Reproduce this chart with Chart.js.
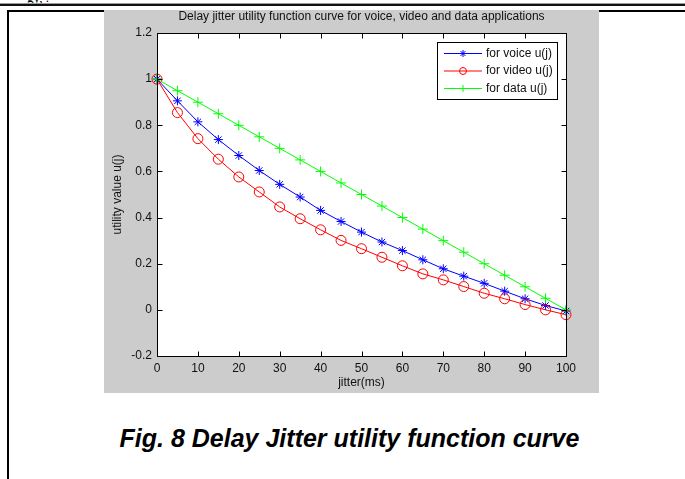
<!DOCTYPE html>
<html>
<head>
<meta charset="utf-8">
<script src="https://cdn.jsdelivr.net/npm/chart.js@4/dist/chart.umd.min.js"></script>
<style>
  html, body { margin: 0; padding: 0; background: #fff; }
  body { width: 685px; height: 479px; position: relative; overflow: hidden; font-family: "Liberation Sans", Arial, sans-serif; }
  #runhead { position: absolute; left: 27px; top: -10px; font: 13px "Liberation Serif", serif; color: #000; }
  #ruleThin { position: absolute; left: 0; top: 3px; width: 685px; height: 1px; background: #9a9a9a; }
  #ruleThick { position: absolute; left: 0; top: 4px; width: 685px; height: 2px; background: #111; }
  #cellTop { position: absolute; left: 7px; top: 10px; width: 678px; height: 2px; background: #000; }
  #cellLeft { position: absolute; left: 7px; top: 10px; width: 2px; height: 469px; background: #000; }
  #fig { position: absolute; left: 104px; top: 10px; width: 495px; height: 383px; }
  #caption { position: absolute; left: 0; top: 423px; width: 699px; text-align: center;
             font: italic bold 25px "Liberation Sans", Arial, sans-serif; line-height: 30px; color: #000; }
</style>
</head>
<body>
<div id="runhead">gy, .</div>
<div id="ruleThin"></div>
<div id="ruleThick"></div>
<div id="cellTop"></div>
<div id="cellLeft"></div>
<div id="fig"><canvas id="chart" width="495" height="383"></canvas></div>
<div id="caption">Fig. 8 Delay Jitter utility function curve</div>

<script>
// Jitter (ms) sample points
const jitter = [0, 5, 10, 15, 20, 25, 30, 35, 40, 45, 50, 55, 60, 65, 70, 75, 80, 85, 90, 95, 100];

// Utility values u(j) per application class
const voiceU = [1, 0.906, 0.815, 0.738, 0.669, 0.604, 0.544, 0.489, 0.431, 0.383, 0.337,
                0.294, 0.257, 0.217, 0.178, 0.146, 0.115, 0.081, 0.048, 0.019, -0.005];
const videoU = [1, 0.855, 0.742, 0.653, 0.576, 0.511, 0.446, 0.395, 0.347, 0.301, 0.265,
                0.228, 0.191, 0.156, 0.130, 0.101, 0.072, 0.048, 0.023, 0.000, -0.021];
const dataU  = [1, 0.95, 0.90, 0.85, 0.80, 0.75, 0.70, 0.65, 0.60, 0.55, 0.50,
                0.45, 0.40, 0.35, 0.30, 0.25, 0.20, 0.15, 0.10, 0.05, 0];

// Axis ticks
const xTicks = [0, 10, 20, 30, 40, 50, 60, 70, 80, 90, 100];
const yTicks = [-0.2, 0, 0.2, 0.4, 0.6, 0.8, 1, 1.2];
const yTickLabels = ['-0.2', '0', '0.2', '0.4', '0.6', '0.8', '1', '1.2'];

// Text
const titleText = 'Delay jitter utility function curve for voice, video and data applications';
const xTitle = 'jitter(ms)';
const yTitle = 'utility value u(j)';
const seriesNames = ['for voice u(j)', 'for video u(j)', 'for data u(j)'];

const FONT = '"Liberation Sans", Arial, sans-serif';
const toPoints = ys => jitter.map((x, i) => ({ x: x, y: ys[i] }));

// Figure background, white axes area, axes box with inward ticks, titles, legend
const figurePlugin = {
  id: 'figureDecor',
  beforeDraw(chart) {
    const ctx = chart.ctx, a = chart.chartArea;
    ctx.save();
    ctx.fillStyle = '#cccccc';
    ctx.fillRect(0, 0, chart.width, chart.height);
    ctx.fillStyle = '#ffffff';
    ctx.fillRect(a.left, a.top, a.right - a.left, a.bottom - a.top);
    ctx.restore();
  },
  afterDatasetsDraw(chart) {
    const ctx = chart.ctx, a = chart.chartArea;
    const xs = chart.scales.x, ys = chart.scales.y;
    const L = Math.round(a.left) + 0.5, R = Math.round(a.right) + 0.5;
    const T = Math.round(a.top) + 0.5, B = Math.round(a.bottom) + 0.5;
    const tk = 5;
    ctx.save();
    ctx.strokeStyle = '#000';
    ctx.lineWidth = 1;
    ctx.beginPath();
    ctx.rect(L, T, R - L, B - T);
    xTicks.forEach(v => {
      const px = Math.round(xs.getPixelForValue(v)) + 0.5;
      ctx.moveTo(px, B); ctx.lineTo(px, B - tk);
      ctx.moveTo(px, T); ctx.lineTo(px, T + tk);
    });
    yTicks.forEach(v => {
      const py = Math.round(ys.getPixelForValue(v)) + 0.5;
      ctx.moveTo(L, py); ctx.lineTo(L + tk, py);
      ctx.moveTo(R, py); ctx.lineTo(R - tk, py);
    });
    ctx.stroke();

    // Title and axis titles
    ctx.fillStyle = '#111';
    ctx.font = '12px ' + FONT;
    ctx.textAlign = 'center';
    ctx.textBaseline = 'middle';
    const cx = (a.left + a.right) / 2;
    ctx.fillText(titleText, cx, 7);
    ctx.fillText(xTitle, cx, 373);
    ctx.save();
    ctx.translate(14, (a.top + a.bottom) / 2);
    ctx.rotate(-Math.PI / 2);
    ctx.fillText(yTitle, 0, 0);
    ctx.restore();

    // Legend box
    const lx = 333.5, ly = 32.5, lw = 120, lh = 57;
    ctx.fillStyle = '#fff';
    ctx.fillRect(lx, ly, lw, lh);
    ctx.strokeStyle = '#000';
    ctx.strokeRect(lx, ly, lw, lh);
    chart.data.datasets.forEach((ds, i) => {
      const y = 43.5 + i * 17.5;
      ctx.strokeStyle = ds.borderColor;
      ctx.lineWidth = 1;
      ctx.beginPath();
      ctx.moveTo(340, y); ctx.lineTo(378, y);
      ctx.stroke();
      ctx.strokeStyle = ds.pointBorderColor;
      ctx.fillStyle = ds.pointBackgroundColor;
      Chart.helpers.drawPoint(ctx, {
        pointStyle: ds.pointStyle, radius: 3.5, rotation: 0, borderWidth: 1
      }, 359, y);
      ctx.fillStyle = '#111';
      ctx.textAlign = 'left';
      ctx.textBaseline = 'middle';
      ctx.fillText(seriesNames[i], 382, y);
    });
    ctx.restore();
  }
};

const common = { borderWidth: 1, pointBorderWidth: 1, tension: 0, clip: false, pointHoverRadius: 5 };

new Chart(document.getElementById('chart'), {
  type: 'line',
  data: {
    datasets: [
      Object.assign({ label: seriesNames[0], data: toPoints(voiceU), borderColor: '#0000ff',
        pointBorderColor: '#0000ff', pointBackgroundColor: '#0000ff', pointStyle: 'star', pointRadius: 4.5, order: 3 }, common),
      Object.assign({ label: seriesNames[1], data: toPoints(videoU), borderColor: '#ff0000',
        pointBorderColor: '#ff0000', pointBackgroundColor: 'rgba(0,0,0,0)', pointStyle: 'circle', pointRadius: 5, order: 2 }, common),
      Object.assign({ label: seriesNames[2], data: toPoints(dataU), borderColor: '#00ff00',
        pointBorderColor: '#00ff00', pointBackgroundColor: '#00ff00', pointStyle: 'cross', pointRadius: 5, order: 1 }, common)
    ]
  },
  options: {
    responsive: false,
    animation: false,
    events: [],
    layout: { padding: { top: 23, right: 33, bottom: 0, left: 0 } },
    plugins: { legend: { display: false }, title: { display: false }, tooltip: { enabled: false } },
    scales: {
      x: {
        type: 'linear', min: 0, max: 100,
        grid: { display: false, drawTicks: false },
        border: { display: false },
        afterBuildTicks: s => { s.ticks = xTicks.map(v => ({ value: v })); },
        afterFit: s => { s.height = 37; },
        ticks: { padding: 5, color: '#111', font: { family: FONT, size: 12 }, maxRotation: 0,
                 callback: v => String(v) }
      },
      y: {
        type: 'linear', min: -0.2, max: 1.2,
        grid: { display: false, drawTicks: false },
        border: { display: false },
        afterBuildTicks: s => { s.ticks = yTicks.map(v => ({ value: v })); },
        afterFit: s => { s.width = 53; },
        ticks: { padding: 5, color: '#111', font: { family: FONT, size: 12 },
                 callback: (v, i) => yTickLabels[i] }
      }
    }
  },
  plugins: [figurePlugin]
});
</script>
</body>
</html>
